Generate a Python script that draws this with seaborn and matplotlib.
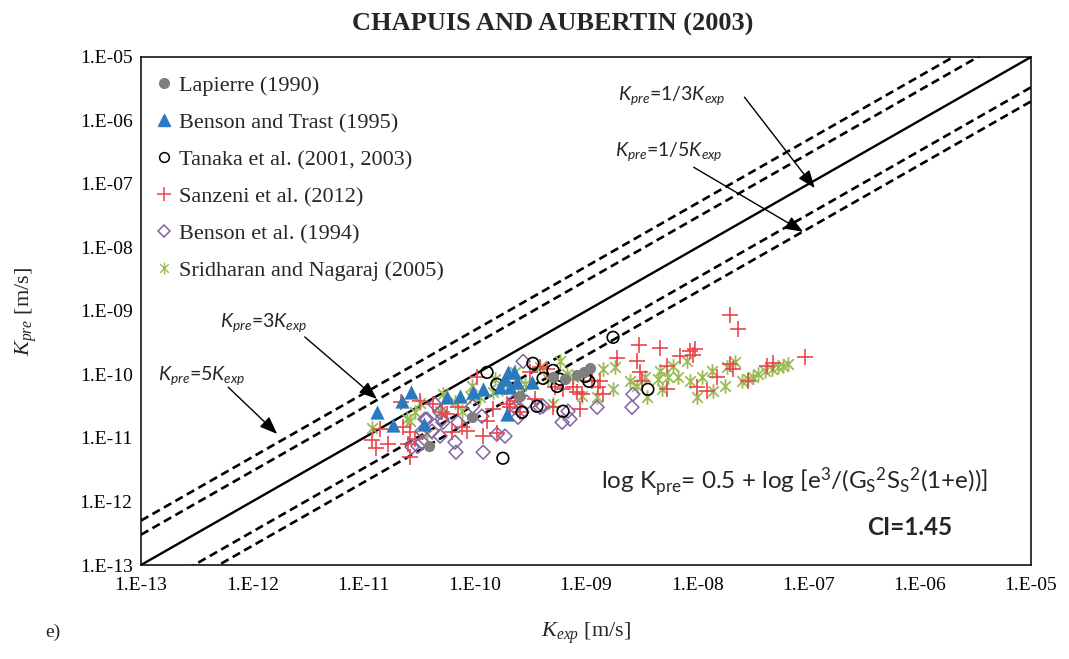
import matplotlib
matplotlib.use("Agg")
import matplotlib.pyplot as plt
import matplotlib.ticker as mticker
from matplotlib.path import Path
from matplotlib.lines import Line2D
import numpy as np
import seaborn as sns

# ---------------- data ----------------
lapierre_kexp = [3.88e-11, 9.4e-11, 2.55e-10, 5.06e-10, 8.30e-10, 9.67e-10, 1.09e-9, 6.48e-10]
lapierre_kpre = [7.43e-12, 2.12e-11, 4.54e-11, 9.03e-11, 9.7e-11, 1.08e-10, 1.25e-10, 8.4e-11]

benson_trast_kexp = [1.32e-11, 1.84e-11, 2.22e-11, 2.67e-11, 3.49e-11, 5.63e-11, 7.37e-11, 9.6e-11,
                     1.19e-10, 1.69e-10, 1.87e-10, 1.99e-10, 2.07e-10, 2.40e-10, 1.95e-10, 3.26e-10, 2.25e-10]
benson_trast_kpre = [2.55e-11, 1.59e-11, 3.79e-11, 5.25e-11, 1.65e-11, 4.39e-11, 4.54e-11, 5.25e-11,
                     5.85e-11, 6.3e-11, 8.4e-11, 1.08e-10, 6.3e-11, 7.5e-11, 2.37e-11, 7.5e-11, 1.08e-10]

tanaka_kexp = [1.29e-10, 1.58e-10, 1.79e-10, 3.33e-10, 3.62e-10, 4.11e-10, 5.06e-10, 5.50e-10,
               5.84e-10, 6.22e-10, 9.8e-10, 1.06e-9, 1.75e-9, 3.60e-9, 2.66e-10]
tanaka_kpre = [1.08e-10, 7.0e-11, 4.8e-12, 1.5e-10, 3.16e-11, 8.7e-11, 1.16e-10, 6.5e-11,
               8.4e-11, 2.64e-11, 9.3e-11, 7.8e-11, 3.85e-10, 5.85e-11, 2.55e-11]

sanzeni_kexp = [1.19e-11, 1.30e-11, 1.41e-11, 1.66e-11, 2.17e-11, 2.26e-11, 2.62e-11, 2.51e-11, 2.62e-11,
                3.22e-11, 4.21e-11, 5.08e-11, 2.90e-11, 5.63e-11, 6.24e-11, 7.07e-11, 7.68e-11, 8.53e-11,
                1.05e-10, 1.19e-10, 1.29e-10, 1.46e-10, 1.58e-10, 1.95e-10, 2.07e-10, 2.30e-10, 2.55e-10,
                3.13e-10, 3.47e-10, 3.86e-10, 4.46e-10, 5.06e-10, 5.27e-10, 6.22e-10, 7.64e-10, 8.30e-10,
                8.83e-10, 9.2e-10, 1.13e-9, 1.28e-9, 1.34e-9, 1.42e-9, 1.90e-9, 2.88e-9, 3.0e-9, 3.06e-9,
                3.19e-9, 4.62e-9, 5.35e-9, 5.35e-9, 6.99e-9, 8.6e-9, 9.16e-9, 9.54e-9, 1.0e-8, 1.22e-8,
                1.51e-8, 1.97e-8, 2.09e-8, 1.97e-8, 2.32e-8, 2.86e-8, 4.23e-8, 4.80e-8, 9.3e-8]
sanzeni_kpre = [9.2e-12, 6.9e-12, 1.37e-11, 8.0e-12, 3.66e-11, 1.48e-11, 1.23e-11, 8.0e-12, 5.0e-12,
                3.79e-11, 3.4e-11, 2.55e-11, 9.6e-12, 2.37e-11, 1.23e-11, 3.05e-11, 1.48e-11, 1.28e-11,
                9.3e-11, 1.07e-11, 1.84e-11, 2.84e-11, 1.19e-11, 3.4e-11, 3.05e-11, 3.79e-11, 2.55e-11,
                1.08e-10, 4.07e-11, 1.3e-10, 1.21e-10, 3.05e-11, 6.3e-11, 5.85e-11, 6.3e-11, 5.25e-11,
                2.84e-11, 4.89e-11, 7.8e-11, 6.3e-11, 7.8e-11, 4.89e-11, 1.8e-10, 1.61e-10, 2.88e-10, 1.08e-10,
                7.8e-11, 2.58e-10, 1.35e-10, 5.85e-11, 1.93e-10, 2.32e-10, 2.0e-10, 2.49e-10, 6.3e-11, 5.45e-11,
                9.3e-11, 1.45e-10, 1.21e-10, 8.5e-10, 5.3e-10, 7.8e-11, 1.35e-10, 1.5e-10, 1.86e-10]

benson94_kexp = [2.73e-11, 3.09e-11, 3.36e-11, 3.57e-11, 3.36e-11, 4.13e-11, 4.39e-11, 4.88e-11, 5.18e-11,
                 4.88e-11, 3.72e-11, 5.08e-11, 6.64e-11, 6.78e-11, 7.07e-11, 9.6e-11, 1.16e-10, 1.19e-10,
                 1.58e-10, 1.87e-10, 2.21e-10, 2.30e-10, 2.45e-10, 2.66e-10, 2.72e-10, 2.95e-10, 3.86e-10,
                 4.11e-10, 6.09e-10, 6.89e-10, 7.18e-10, 1.26e-9, 2.59e-9, 2.64e-9]
benson94_kpre = [7.2e-12, 7.43e-12, 8.6e-12, 1.98e-11, 1.28e-11, 1.28e-11, 3.4e-11, 2.55e-11, 1.77e-11,
                 1.07e-11, 1.98e-11, 1.98e-11, 8.6e-12, 5.98e-12, 1.77e-11, 3.16e-11, 2.2e-11, 5.98e-12,
                 1.15e-11, 1.07e-11, 3.66e-11, 3.05e-11, 2.12e-11, 2.55e-11, 1.61e-10, 3.66e-11, 3.05e-11,
                 3.16e-11, 1.77e-11, 2.64e-11, 1.98e-11, 3.05e-11, 3.05e-11, 4.89e-11]

sridharan_kexp = [1.19e-11, 2.46e-11, 2.62e-11, 2.90e-11, 3.22e-11, 3.72e-11, 4.88e-11, 5.18e-11, 6.64e-11,
                  7.68e-11, 9.1e-11, 9.4e-11, 1.11e-10, 1.46e-10, 1.52e-10, 1.76e-10, 2.30e-10, 2.45e-10,
                  2.83e-10, 3.86e-10, 4.56e-10, 5.06e-10, 5.84e-10, 6.75e-10, 7.64e-10, 9.2e-10, 1.26e-9,
                  1.42e-9, 1.75e-9, 1.82e-9, 2.49e-9, 2.88e-9, 3.39e-9, 3.53e-9, 4.44e-9, 4.62e-9, 4.82e-9,
                  5.46e-9, 6.05e-9, 6.70e-9, 8.08e-9, 8.6e-9, 1.0e-8, 1.10e-8, 1.36e-8, 1.39e-8, 1.77e-8,
                  1.85e-8, 2.18e-8, 2.52e-8, 2.86e-8, 3.17e-8, 3.51e-8, 4.06e-8, 4.70e-8, 5.32e-8, 5.89e-8, 6.53e-8]
sridharan_kpre = [1.43e-11, 1.98e-11, 1.84e-11, 2.55e-11, 3.52e-11, 1.15e-11, 2.64e-11, 4.89e-11, 3.66e-11,
                  2.64e-11, 4.54e-11, 6.5e-11, 4.39e-11, 5.25e-11, 8.4e-11, 5.85e-11, 1.08e-10, 6.5e-11,
                  7.0e-11, 1.3e-10, 8.4e-11, 3.4e-11, 1.61e-10, 1.0e-10, 9.3e-11, 4.54e-11, 4.39e-11,
                  1.21e-10, 5.85e-11, 1.3e-10, 7.8e-11, 6.5e-11, 9.0e-11, 4.39e-11, 8.4e-11, 1.12e-10, 5.85e-11,
                  9.0e-11, 1.35e-10, 9.3e-11, 1.61e-10, 7.8e-11, 4.39e-11, 9.3e-11, 1.12e-10, 5.45e-11, 6.5e-11,
                  1.3e-10, 1.56e-10, 7.8e-11, 8.4e-11, 9.0e-11, 1.0e-10, 1.12e-10, 1.21e-10, 1.3e-10, 1.35e-10, 1.45e-10]

series_labels = ["Lapierre (1990)", "Benson and Trast (1995)", "Tanaka et al. (2001, 2003)",
                 "Sanzeni et al. (2012)", "Benson et al. (1994)", "Sridharan and Nagaraj (2005)"]

tick_values = [1e-13, 1e-12, 1e-11, 1e-10, 1e-9, 1e-8, 1e-7, 1e-6, 1e-5]
tick_labels = ["1.E-13", "1.E-12", "1.E-11", "1.E-10", "1.E-09", "1.E-08", "1.E-07", "1.E-06", "1.E-05"]

ratio_factors = [5, 3, 1, 1 / 3, 1 / 5]
line_ends = [1e-13, 1e-5]

# ---------------- style ----------------
sns.set_theme(style="white")
plt.rcParams["font.family"] = ["Liberation Serif", "DejaVu Serif"]
plt.rcParams["mathtext.fontset"] = "custom"
plt.rcParams["mathtext.it"] = "Liberation Serif:italic"
plt.rcParams["mathtext.rm"] = "Liberation Serif"
plt.rcParams["mathtext.sf"] = "Lato:italic"
plt.rcParams["mathtext.bf"] = "Liberation Serif:bold"

c_gray = "#7f7f7f"
c_blue = "#2a7ac0"
c_black = "#000000"
c_red = "#e8474c"
c_purple = "#8064a2"
c_green = "#9bbb59"

star = Path([(-0.72, -0.72), (0.72, 0.72), (-0.72, 0.72), (0.72, -0.72), (0, -1), (0, 1)],
            [Path.MOVETO, Path.LINETO] * 3)

fig = plt.figure(figsize=(10.69, 6.59), dpi=100)
ax = fig.add_axes([141 / 1069, 94 / 659, 890 / 1069, 508 / 659])
ax.set_xscale("log")
ax.set_yscale("log")

# reference lines
lx = np.array(line_ends)
for f in ratio_factors:
    if f == 1:
        ax.plot(lx, lx * f, color="black", lw=1.7, zorder=1)
    else:
        ax.plot(lx, lx * f, color="black", lw=1.9, dashes=(3.2, 1.8), zorder=1)

# scatter series
sns.scatterplot(x=sridharan_kexp, y=sridharan_kpre, marker=star, s=110, color=c_green,
                edgecolor=c_green, linewidth=1.3, ax=ax, zorder=3, legend=False)
sns.scatterplot(x=benson94_kexp, y=benson94_kpre, marker="D", s=50, color=c_purple,
                facecolor="none", edgecolor=c_purple, linewidth=1.1, ax=ax, zorder=3, legend=False)
sns.scatterplot(x=sanzeni_kexp, y=sanzeni_kpre, marker="+", s=130, color=c_red,
                linewidth=1.2, ax=ax, zorder=3, legend=False)
sns.scatterplot(x=tanaka_kexp, y=tanaka_kpre, marker="o", s=70, color=c_black,
                facecolor="none", edgecolor=c_black, linewidth=1.2, ax=ax, zorder=4, legend=False)
sns.scatterplot(x=benson_trast_kexp, y=benson_trast_kpre, marker="^", s=105, color=c_blue,
                edgecolor=c_blue, linewidth=0, ax=ax, zorder=4, legend=False)
sns.scatterplot(x=lapierre_kexp, y=lapierre_kpre, marker="o", s=65, color=c_gray,
                edgecolor=c_gray, linewidth=0, ax=ax, zorder=4, legend=False)

ax.set_xlim(line_ends)
ax.set_ylim(line_ends)
ax.set_xticks(tick_values)
ax.set_xticklabels(tick_labels)
ax.set_yticks(tick_values)
ax.set_yticklabels(tick_labels)
ax.xaxis.set_minor_locator(mticker.NullLocator())
ax.yaxis.set_minor_locator(mticker.NullLocator())
ax.tick_params(axis="both", which="major", direction="in", length=5, width=1,
               labelsize=14, color="black", labelcolor="black")
ax.tick_params(axis="x", pad=9)
ax.tick_params(axis="y", pad=6)
for sp in ax.spines.values():
    sp.set_color("black")
    sp.set_linewidth(1.1)
    sp.set_visible(True)

fig.text(553 / 1069, 1 - 24 / 659, "CHAPUIS AND AUBERTIN (2003)", fontsize=19, fontweight="bold",
         ha="center", va="center")
ax.set_xlabel(r"$K_{exp}$ [m/s]", fontsize=16)
ax.set_ylabel(r"$K_{pre}$ [m/s]", fontsize=16)
ax.xaxis.set_label_coords(0.5, -0.11)
ax.yaxis.set_label_coords(-0.115, 0.5)

fig.text(45 / 1069, 1 - 632 / 659, "e)", fontsize=14, va="center", ha="left")

# legend
handles = [
    Line2D([], [], ls="none", marker="o", ms=7, color=c_gray, mec=c_gray),
    Line2D([], [], ls="none", marker="^", ms=8, color=c_blue, mec=c_blue),
    Line2D([], [], ls="none", marker="o", ms=7, mfc="none", mec=c_black, mew=1.1),
    Line2D([], [], ls="none", marker="+", ms=10, color=c_red, mew=1.1),
    Line2D([], [], ls="none", marker="D", ms=6, mfc="none", mec=c_purple, mew=1.1),
    Line2D([], [], ls="none", marker=star, ms=8.5, color=c_green, mec=c_green, mew=1.0),
]
ax.legend(handles, series_labels, loc="upper left", bbox_to_anchor=(0.0, 0.994), frameon=False,
          fontsize=16, handlelength=0.7, handletextpad=0.3, labelspacing=0.74, borderaxespad=0.3)

# annotations
sans = ["Lato", "DejaVu Sans"]
ann_size = 14
ax.text(0.536, 0.925, r"$\mathsf{K_{pre}}$=1/3$\mathsf{K_{exp}}$", transform=ax.transAxes,
        fontsize=ann_size, family=sans, va="center", ha="left")
ax.text(0.533, 0.813, r"$\mathsf{K_{pre}}$=1/5$\mathsf{K_{exp}}$", transform=ax.transAxes,
        fontsize=ann_size, family=sans, va="center", ha="left")
ax.text(0.089, 0.478, r"$\mathsf{K_{pre}}$=3$\mathsf{K_{exp}}$", transform=ax.transAxes,
        fontsize=ann_size, family=sans, va="center", ha="left")
ax.text(0.019, 0.372, r"$\mathsf{K_{pre}}$=5$\mathsf{K_{exp}}$", transform=ax.transAxes,
        fontsize=ann_size, family=sans, va="center", ha="left")

arrow_kw = dict(arrowstyle="-|>,head_length=0.9,head_width=0.35", color="black", lw=1.0,
                shrinkA=0, shrinkB=0)
for start, tip in [((0.678, 0.921), (0.757, 0.742)),
                   ((0.621, 0.783), (0.744, 0.656)),
                   ((0.184, 0.449), (0.265, 0.327)),
                   ((0.098, 0.350), (0.153, 0.258))]:
    ax.annotate("", xy=tip, xytext=start, xycoords="axes fraction", textcoords="axes fraction",
                arrowprops=arrow_kw)

ax.text(0.734, 0.163,
        r"log K$\mathregular{_{pre}}$= 0.5 + log [e$\mathregular{^{3}}$/(G$\mathregular{_{S}}$$\mathregular{^{2}}$S$\mathregular{_{S}}$$\mathregular{^{2}}$(1+e))]",
        transform=ax.transAxes, fontsize=17.5, family=sans, ha="center", va="center")
ax.text(0.864, 0.073, "CI=1.45", transform=ax.transAxes, fontsize=17.5, family=sans,
        fontweight="bold", ha="center", va="center")

fig.savefig("out.png", dpi=100)
